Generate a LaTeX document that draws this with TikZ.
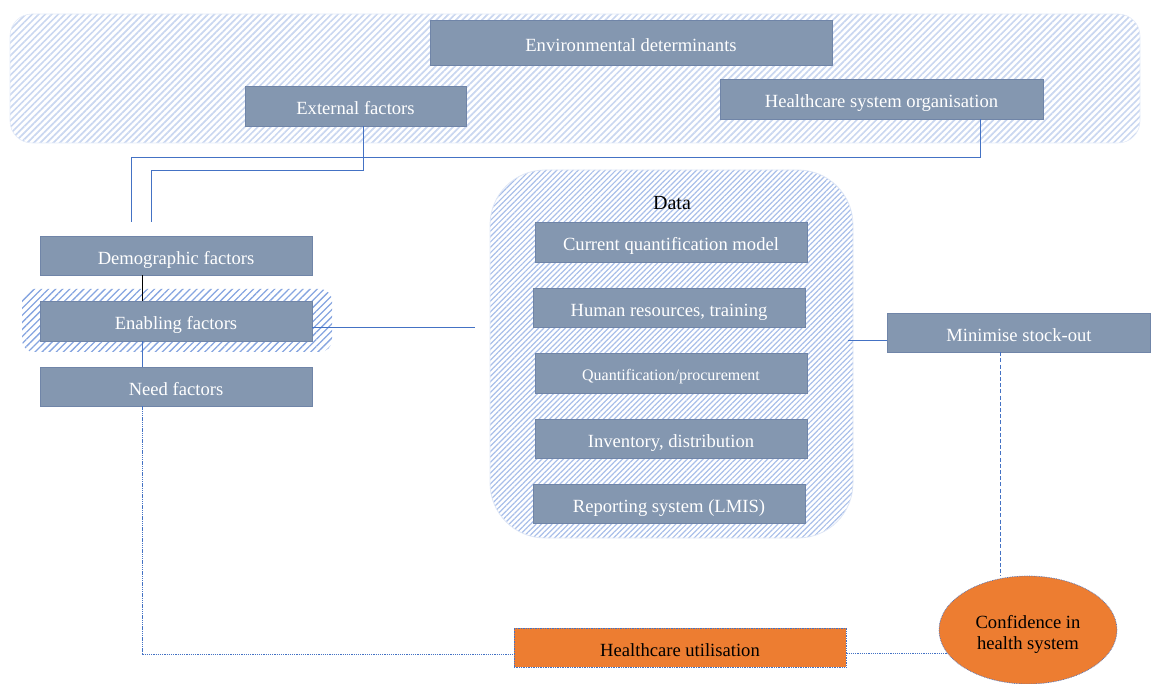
\documentclass[tikz,border=0pt]{standalone}
\usepackage{fontspec}
\setmainfont{Liberation Serif}
\usetikzlibrary{patterns.meta,shapes.geometric,calc}
\definecolor{boxfill}{HTML}{8497B0}
\definecolor{boxline}{HTML}{7085A8}
\definecolor{connc}{HTML}{4472C4}
\definecolor{orng}{HTML}{ED7D31}
\definecolor{stripeA}{HTML}{CAD7F0}
\definecolor{stripeB}{HTML}{A9BFE9}
\definecolor{stripeC}{HTML}{86A5E0}
\begin{document}
\begin{tikzpicture}[x=1pt,y=-1pt,
  box/.style={draw=boxline, line width=0.5pt, fill=boxfill, text=white,
    font=\fontsize{18.6}{20}\selectfont, inner sep=0pt, minimum width=272pt, minimum height=39pt,
    text height=18.6pt, text depth=1.4pt},
  smallbox/.style={box, font=\fontsize{16}{18}\selectfont, text height=17pt, text depth=1.8pt},
  orangebox/.style={draw=connc, densely dotted, line width=0.7pt, fill=orng, text=black,
    font=\fontsize{18.6}{22}\selectfont, inner sep=0pt},
  band/.style={draw=stripeA!50, line width=0.6pt, inner sep=0pt,
    pattern={Lines[angle=45, distance=4.6pt, line width=1.7pt]}, pattern color=stripeA},
  databand/.style={draw=stripeA!60, line width=0.8pt, inner sep=0pt,
    pattern={Lines[angle=45, distance=3.8pt, line width=1.2pt]}, pattern color=stripeB},
  hiband/.style={inner sep=0pt,
    pattern={Lines[angle=45, distance=5pt, line width=1.3pt]}, pattern color=stripeC},
  conn/.style={draw=connc, line width=0.9pt},
  dotconn/.style={draw=connc, line width=0.8pt, dash pattern=on 1.3pt off 0.9pt},
  dashconn/.style={draw=connc, line width=0.9pt, dash pattern=on 4pt off 2.2pt},
]
\useasboundingbox (0,0) rectangle (1151,684);

% background groupings
\node[band, rounded corners=22pt, minimum width=1130pt, minimum height=129pt] (envband) at (575,78.5) {};
\node[databand, rounded corners=55pt, minimum width=363pt, minimum height=368pt] (datac) at (671.5,354) {};
\node[hiband, rounded corners=12pt, minimum width=310pt, minimum height=63pt] (hib) at (177,320.5) {};

% top boxes
\node[box, minimum width=402pt, minimum height=45pt] (env) at (631,42.5) {Environmental determinants};
\node[box, minimum width=221pt, minimum height=40pt] (ext) at (355.5,106) {External factors};
\node[box, minimum width=323pt, minimum height=40pt] (hso) at (881.5,99) {Healthcare system organisation};

% left column
\node[box] (demo) at (176,255.5) {Demographic factors};
\node[box, minimum height=40pt] (enab) at (176,321) {Enabling factors};
\node[box] (need) at (176,386.5) {Need factors};

% data column
\node[font=\fontsize{20}{22}\selectfont] (datalbl) at (672,203) {Data};
\node[box, minimum height=40pt] (cqm) at (671,242) {Current quantification model};
\node[box] (hr) at (669,307.5) {Human resources, training};
\node[smallbox, minimum height=40pt] (qp) at (671,373) {Quantification/procurement};
\node[box] (inv) at (671,438.5) {Inventory, distribution};
\node[box] (rep) at (669,503.5) {Reporting system (LMIS)};

% right
\node[box, minimum width=263pt] (mini) at (1019,332.5) {Minimise stock-out};
\node[orangebox, ellipse, minimum width=178pt, minimum height=108pt] (conf) at (1028,630)
  {\raisebox{-9pt}[0pt][0pt]{\begin{tabular}{@{}c@{}}Confidence in\\[-1pt]health system\end{tabular}}};
\node[orangebox, minimum width=332pt, minimum height=39pt, text height=18.6pt, text depth=1.4pt] (hu) at (680,647.5) {Healthcare utilisation};

% free ends
\coordinate (e1) at (151,222);
\coordinate (e2) at (131,222);
\coordinate (e3) at (475,327);
\coordinate (e4) at (848,340);

% connectors
\draw[conn] ([xshift=7.5pt]ext.south) -- ++(0,44) -| (e1);
\draw[conn] ([xshift=98.5pt]hso.south) -- ++(0,38) -| (e2);
\draw[black, line width=0.9pt] ([xshift=-34pt]demo.south) -- ([xshift=-34pt]enab.north);
\draw[conn] ([xshift=-34pt]enab.south) -- ([xshift=-34pt]need.north);
\draw[conn] ([yshift=-6pt]enab.east) -- (e3);
\draw[conn] (e4) -- ([yshift=-7.5pt]mini.west);
\draw[dashconn] ([xshift=-19pt]mini.south) -- ([xshift=-19pt]mini.south |- conf.north);
\draw[dotconn] ([xshift=-34pt]need.south) |- ([yshift=-7pt]hu.west);
\draw[dotconn] ([yshift=-6pt]hu.east) -- ([yshift=-6pt]hu.east -| conf.196);
\end{tikzpicture}
\end{document}
